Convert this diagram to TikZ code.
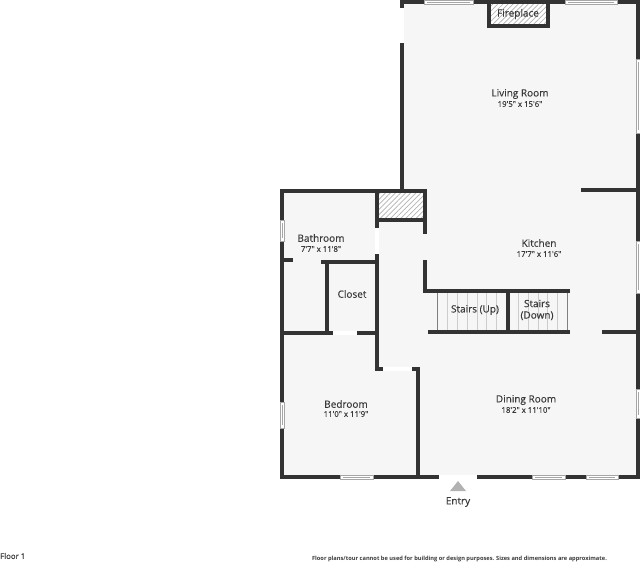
\documentclass[tikz,border=0pt]{standalone}
\usepackage{fontspec}
\setmainfont{Open Sans}
\newfontfamily\planfont{Open Sans}[FakeBold=0.25]
\usepackage{tikz}
\usetikzlibrary{patterns.meta}
\definecolor{wallgray}{HTML}{333333}
\definecolor{floorgray}{HTML}{F6F6F6}
\definecolor{labelgray}{HTML}{3A3A3A}
\begin{document}
\begin{tikzpicture}[
            x = 1pt, % one unit is one pixel of the plan
            y = -1pt,
            line cap = rect,
            line join = miter
        ]

        \tikzstyle{wall}=[
            draw = wallgray,
            line width = 3.4pt
        ]
        \tikzstyle{windowpane}=[
            draw = gray!70,
            fill = white,
            line width = 0.5pt,
            line cap = butt
        ]
        \tikzstyle{doorgap}=[
            draw = none,
            fill = white
        ]
        \tikzstyle{hatching}=[
            pattern = {Lines[angle=45, distance=3.6pt, line width=0.7pt]},
            pattern color = gray!60
        ]
        \tikzstyle{tread}=[
            draw = gray!40,
            line width = 0.5pt,
            line cap = butt
        ]
        \tikzstyle{stringer}=[
            draw = gray,
            line width = 0.9pt,
            line cap = butt
        ]
        \tikzstyle{roomname}=[
            text = labelgray,
            font = \planfont\fontsize{10}{11.5}\selectfont,
            align = center,
            inner sep = 0pt
        ]
        \tikzstyle{roomsize}=[
            text = labelgray,
            font = \planfont\fontsize{7.8}{9}\selectfont,
            inner sep = 0pt
        ]

        \useasboundingbox (0,0) rectangle (640,563);

        % floor
        \fill[floorgray] (402,2) -- (638,2) -- (638,477) -- (282,477) -- (282,191) -- (402,191) -- cycle;

        % hatched blocks
        \fill[white] (490,4) rectangle (547,25);
        \fill[hatching] (490,4) rectangle (547,25);
        \fill[white] (378,193) rectangle (424,219);
        \fill[hatching] (378,193) rectangle (424,219);

        % stairs
        \foreach \x in {447,457,467,477,486,496,518,528,538,547,557}
            \draw[tread] (\x,292) -- (\x,331);
        \draw[stringer] (437.5,292) -- (437.5,331);
        \draw[stringer] (567.5,292) -- (567.5,331);

        % outer walls
        \draw[wall] (402,190) -- (402,2) -- (638,2) -- (638,477) -- (282,477) -- (282,191) -- (425,191) -- (425,232);

        % inner walls
        \draw[wall] (377,191) -- (377,369) -- (381,369);
        \draw[wall] (377,220) -- (425,220);
        \draw[wall] (583,190) -- (638,190);
        \draw[wall] (282,260) -- (291,260);
        \draw[wall] (323,262) -- (377,262);
        \draw[wall] (327,262) -- (327,333);
        \draw[wall] (282,333) -- (331,333);
        \draw[wall] (358,333) -- (377,333);
        \draw[wall] (414,369) -- (418,369) -- (418,477);
        \draw[wall] (425,262) -- (425,291) -- (568,291);
        \draw[wall] (508,291) -- (508,332);
        \draw[wall] (430,332) -- (568,332);
        \draw[wall] (604,332) -- (638,332);

        % fireplace walls
        \draw[wall, line width=4.2pt] (489,2) -- (489,26) -- (548,26) -- (548,2);

        % door openings
        \fill[doorgap] (375,228) rectangle (379,254);
        \fill[doorgap] (333,331) rectangle (357,335);
        \fill[doorgap] (383,367) rectangle (412,371);
        \fill[doorgap] (439,475) rectangle (477,479);

        % windows along a horizontal wall
        \foreach \xa/\xb/\ya in {424/473/2,565/617/2,340/373/477,532/565/477,586/618/477} {
            \draw[windowpane] (\xa,\ya-2) rectangle (\xb,\ya+2);
            \draw[windowpane] (\xa+3,\ya) -- (\xb-3,\ya);
        }

        % windows along a vertical wall
        \foreach \ya/\yb/\xa in {59/133/638,241/293/638,389/418/638,220/241/282,402/428/282} {
            \draw[windowpane] (\xa-2,\ya) rectangle (\xa+2,\yb);
            \draw[windowpane] (\xa,\ya+3) -- (\xa,\yb-3);
        }
        \fill[doorgap] (400,8) rectangle (404,43);

        % entry marker
        \fill[gray!60] (450,491) -- (458,481) -- (466,491) -- cycle;

        % labels
        \node[roomname] (living) at (520,94) {Living Room};
        \node[roomsize] (livingsize) at (520,104) {19'5" x 15'6"};
        \node[roomname] (kitchen) at (539,243) {Kitchen};
        \node[roomsize] (kitchensize) at (539,254) {17'7" x 11'6"};
        \node[roomname] (bathroom) at (321,238) {Bathroom};
        \node[roomsize] (bathroomsize) at (321,249) {7'7" x 11'8"};
        \node[roomname] (closet) at (352,294) {Closet};
        \node[roomname] (bedroom) at (346,404) {Bedroom};
        \node[roomsize] (bedroomsize) at (346,414) {11'0" x 11'9"};
        \node[roomname] (dining) at (526,400) {Dining Room};
        \node[roomsize] (diningsize) at (526,410) {18'2" x 11'10"};
        \node[roomname] (fireplace) at (518,14) {Fireplace};
        \node[roomname] (stairsup) at (475,310) {Stairs (Up)};
        \node[roomname] (stairsdown) at (537,310) {Stairs\\(Down)};
        \node[roomname] (entry) at (458,502) {Entry};
        \node[roomsize, anchor=west] (floorname) at (0,556) {Floor 1};
        \node[inner sep=0pt, text=labelgray, font=\fontsize{5.7}{6}\selectfont\bfseries] (disclaimer) at (459.5,559) {Floor plans/tour cannot be used for building or design purposes. Sizes and dimensions are approximate.};
    \end{tikzpicture}
\end{document}
